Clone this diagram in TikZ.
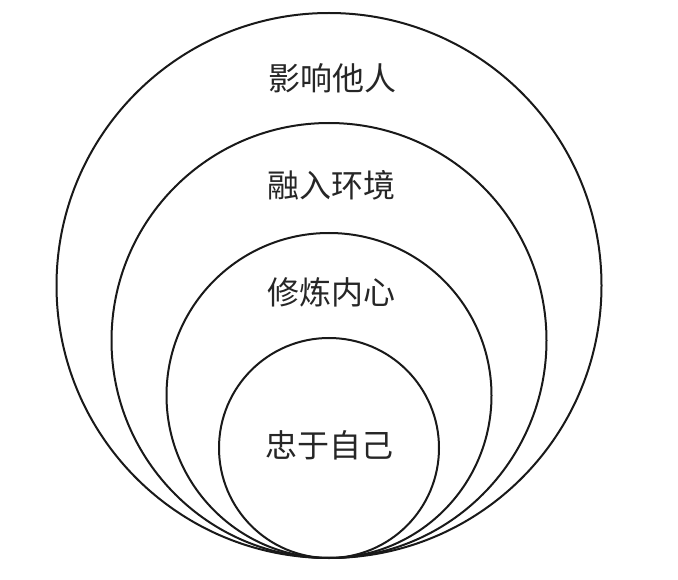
\documentclass[tikz,border=0pt]{standalone}
\usepackage{fontspec}
\newfontfamily\cjk{Noto Sans CJK SC}
\tikzset{
  ring/.style={draw=black!90, line width=2pt},
  lbl/.style={font=\cjk\fontsize{32}{36}\selectfont, text=black!85, inner sep=0pt}
}
\begin{document}
\begin{tikzpicture}[x=1pt,y=-1pt]
\useasboundingbox (0,0) rectangle (678,580);
\fill[white] (0,0) rectangle (678,580);
\draw[ring] (329,285.5) circle (272.5);
\draw[ring] (329,340.5) circle (217.5);
\draw[ring] (329,395.5) circle (162.5);
\draw[ring] (329,448) circle (110);
\node[lbl] (l1) at (332,78) {影响他人};
\node[lbl] (l2) at (331,185) {融入环境};
\node[lbl] (l3) at (331,292) {修炼内心};
\node[lbl] (l4) at (329,445) {忠于自己};
\end{tikzpicture}
\end{document}
